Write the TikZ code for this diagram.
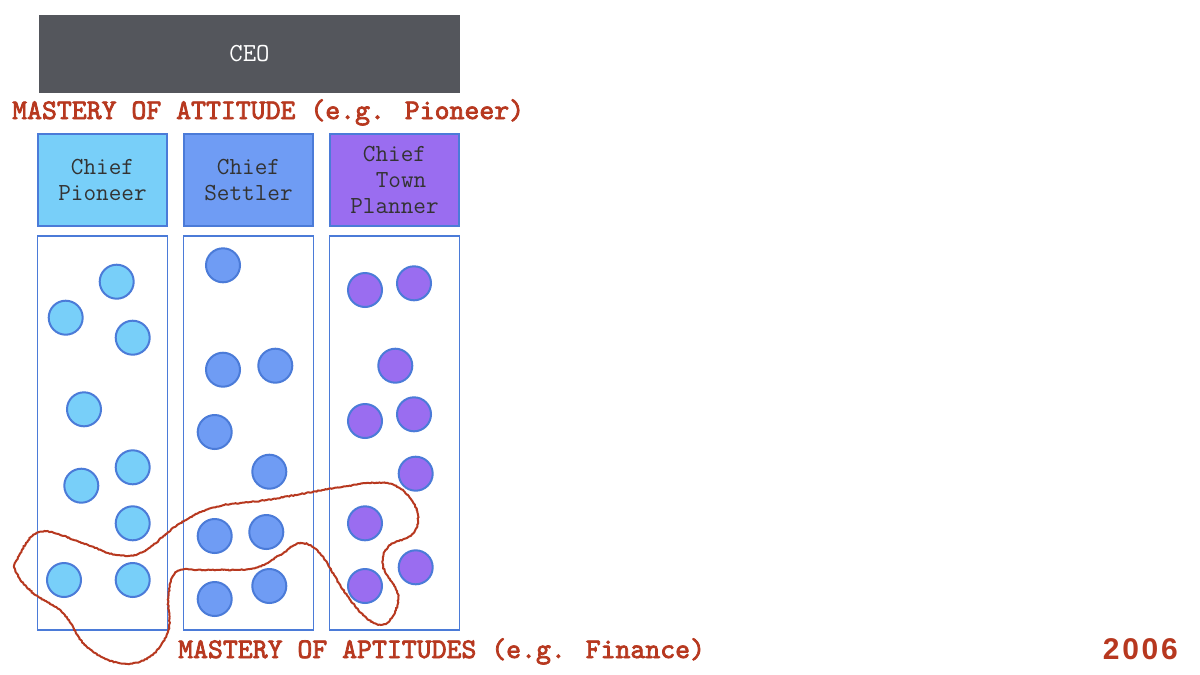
\documentclass[tikz,border=0pt]{standalone}
\usepackage{fontspec}
\setsansfont{Liberation Sans}
\newfontfamily\masteryfont[FakeBold=2.6]{lmmono10-regular.otf}
\usetikzlibrary{positioning,decorations.pathmorphing}
\definecolor{ceogray}{HTML}{54565C}
\definecolor{mred}{HTML}{B7381F}
\definecolor{edgeblue}{HTML}{4B7BD8}
\definecolor{inkgray}{HTML}{333333}
\definecolor{pioneerfill}{HTML}{78CFF9}
\definecolor{settlerfill}{HTML}{6F9CF4}
\definecolor{plannerfill}{HTML}{9A6DF0}

\begin{document}
\begin{tikzpicture}[
  x=1pt, y=-1pt,
  node distance=8pt and 15pt,
  ceo/.style={fill=ceogray, text=white, minimum width=421pt, minimum height=78pt,
              inner sep=0pt, font=\ttfamily\fontsize{26}{30}\selectfont},
  chief/.style={draw=edgeblue, line width=2pt, minimum width=129pt, minimum height=92pt,
                align=center, text=inkgray, inner sep=0pt,
                font=\ttfamily\fontsize{24.5}{26}\selectfont},
  lane/.style={draw=edgeblue, line width=1.5pt, minimum width=130pt,
               minimum height=394pt, inner sep=0pt},
  person/.style={circle, draw=edgeblue, line width=2pt, minimum size=34pt, inner sep=0pt},
  mastery/.style={text=mred, inner sep=0pt, font=\masteryfont\fontsize{28.4}{30}\selectfont}
]
\useasboundingbox[fill=white] (0,0) rectangle (1200,675);
% top
\node[ceo] (ceo) at (249.5,54) {CEO};
\node[mastery, anchor=base west] (attitude) at (12,119) {MASTERY OF ATTITUDE (e.g. Pioneer)};
% chiefs
\node[chief, fill=pioneerfill] (pioneer) at (102.5,180) {Chief\\Pioneer};
\node[chief, fill=settlerfill, right=of pioneer] (settler) {Chief\\Settler};
\node[chief, fill=plannerfill, right=of settler] (planner) {Chief\\\hspace{13pt}Town\\Planner};
% lanes
\node[lane, below=of pioneer] (plane) {};
\node[lane, below=of settler] (slane) {};
\node[lane, below=of planner] (tlane) {};
% people
\foreach \x/\y [count=\i] in {116.7/281.7, 65.7/317.7, 132.7/337.7, 84/409.3, 132.7/467.3,
    81.3/485.7, 132.7/523.3, 64/580, 132.7/580}
  \node[person, fill=pioneerfill] (p\i) at (\x,\y) {};
\foreach \x/\y [count=\i] in {223/265.3, 223/369.7, 275.3/365.7, 214.7/432, 269.3/471.7,
    214.7/536, 266.3/532, 214.7/599, 269.3/586}
  \node[person, fill=settlerfill] (s\i) at (\x,\y) {};
\foreach \x/\y [count=\i] in {365/290, 414/283.3, 395.3/365.7, 365/421, 414/414.3,
    415.7/473.7, 365/523.3, 415.7/567.3, 365/586}
  \node[person, fill=plannerfill] (t\i) at (\x,\y) {};
% aptitude loop
\draw[mred, line width=2pt, decorate,
      decoration={random steps, segment length=1.5pt, amplitude=0.5pt}]
  plot[smooth cycle, tension=0.65] coordinates {
  (16.7,560) (40,531.7) (83.3,543.3) (116.7,555) (143.3,551.7) (180,523.3)
  (216.7,506.7) (266.7,500) (333.3,488.3) (376.7,482.7) (400,488.3) (416.7,510)
  (413.3,533.3) (388.3,546.7) (383.3,566.7) (398.3,596.7) (386.7,623.3)
  (366.7,618.3) (343.3,590) (320,553.3) (300,543.3) (280,555) (253.3,568.3)
  (206.7,570) (176.7,571.7) (168.3,596.7) (168.3,630) (150,656.7) (120,663.3)
  (86.7,646.7) (63.3,613.3) (33.3,593.3) (16.7,573.3)};
% bottom
\node[mastery, anchor=base west] (aptitude) at (178,658) {MASTERY OF APTITUDES (e.g. Finance)};
\node[text=mred, inner sep=0pt, anchor=base east,
      font=\sffamily\bfseries\fontsize{30}{34}\selectfont\addfontfeature{LetterSpace=9}]
  (year) at (1178,659) {2006};
\end{tikzpicture}
\end{document}
